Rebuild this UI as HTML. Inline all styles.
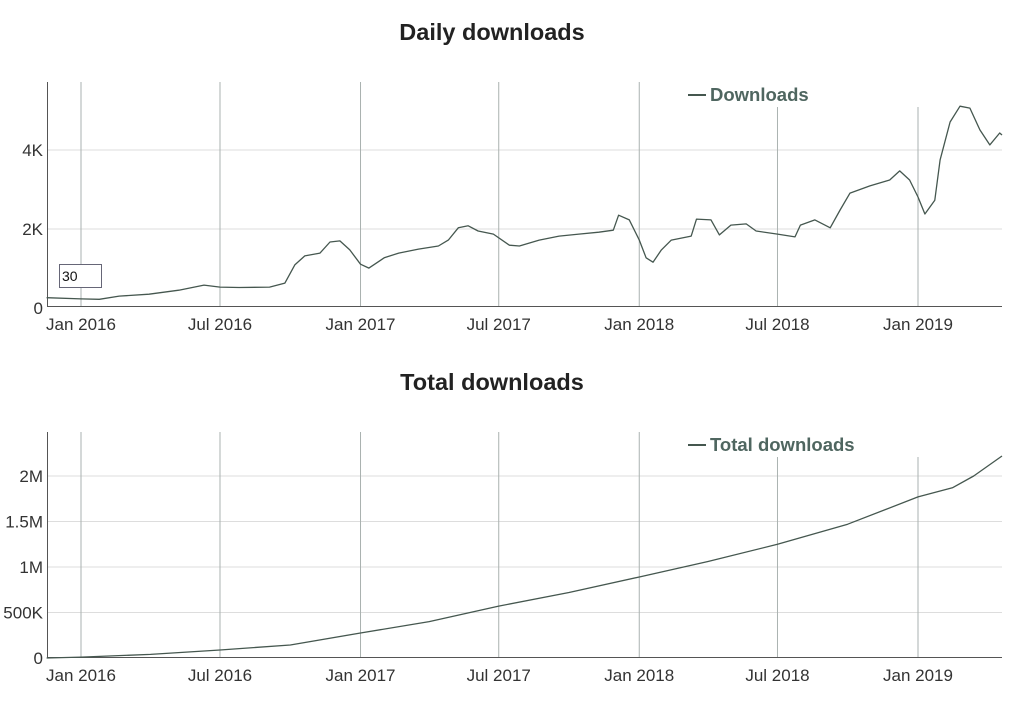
<!DOCTYPE html>
<html><head><meta charset="utf-8"><style>
body{margin:0;background:#fff;width:1027px;height:720px;overflow:hidden;font-family:"Liberation Sans",sans-serif}
svg{display:block}
</style></head><body>
<svg id="c" width="1027" height="720">
<text x="492" y="40" text-anchor="middle" font-size="23.5" font-weight="bold" fill="#222">Daily downloads</text>
<text x="492" y="390" text-anchor="middle" font-size="23.5" font-weight="bold" fill="#222">Total downloads</text>
<g id="p1"></g>
<g id="p2"></g>
<g><rect x="59.5" y="264.5" width="42" height="23" fill="#fff" stroke="#667" stroke-width="1"/><text x="62" y="281" font-size="14" fill="#111">30</text></g>
</svg>
<script>
const dailyDates=["2015-11-17","2016-01-01","2016-01-25","2016-02-20","2016-03-30","2016-05-08","2016-06-10","2016-07-01","2016-07-26","2016-09-04","2016-09-24","2016-10-07","2016-10-20","2016-11-09","2016-11-22","2016-12-05","2016-12-18","2017-01-01","2017-01-12","2017-02-01","2017-02-20","2017-03-18","2017-04-13","2017-04-26","2017-05-09","2017-05-22","2017-06-04","2017-06-24","2017-07-15","2017-07-28","2017-08-23","2017-09-18","2017-10-14","2017-11-09","2017-11-28","2017-12-05","2017-12-19","2018-01-01","2018-01-10","2018-01-19","2018-01-30","2018-02-12","2018-03-10","2018-03-17","2018-04-05","2018-04-16","2018-05-01","2018-05-21","2018-06-03","2018-07-01","2018-07-24","2018-07-31","2018-08-19","2018-09-08","2018-09-21","2018-10-04","2018-10-30","2018-11-25","2018-12-08","2018-12-21","2019-01-01","2019-01-10","2019-01-23","2019-01-30","2019-02-12","2019-02-25","2019-03-10","2019-03-23","2019-04-05","2019-04-18","2019-04-21"];
const dailyValues=[260,230,220,300,350,450,580,530,520,530,630,1090,1320,1390,1670,1700,1470,1110,1010,1270,1390,1490,1570,1720,2030,2080,1950,1870,1590,1570,1720,1820,1870,1920,1970,2350,2230,1720,1270,1160,1470,1720,1820,2250,2230,1850,2100,2130,1950,1870,1800,2100,2230,2030,2480,2910,3090,3240,3470,3240,2810,2380,2730,3750,4710,5110,5060,4510,4130,4430,4380];
const totalDates=["2015-11-17","2016-01-01","2016-04-01","2016-07-01","2016-10-01","2017-01-01","2017-04-01","2017-07-01","2017-10-01","2018-01-01","2018-04-01","2018-07-01","2018-10-01","2019-01-01","2019-02-15","2019-03-15","2019-04-21"];
const totalValues=[0,10000,40000,88000,143000,275000,400000,570000,720000,890000,1060000,1250000,1470000,1770000,1870000,2000000,2220000];
const dailyTicks=[0,2000,4000],dailyTickLabels=["0","2K","4K"];
const totalTicks=[0,500000,1000000,1500000,2000000],totalTickLabels=["0","500K","1M","1.5M","2M"];
const xTickDates=["2016-01-01","2016-07-01","2017-01-01","2017-07-01","2018-01-01","2018-07-01","2019-01-01"];
const xTickLabels=["Jan 2016","Jul 2016","Jan 2017","Jul 2017","Jan 2018","Jul 2018","Jan 2019"];
const NS="http://www.w3.org/2000/svg";
const d0=Date.parse("2016-01-01"),ppd=837/1096;
const X=s=>81+(Date.parse(s)-d0)/864e5*ppd;
function mk(g,t,a){const e=document.createElementNS(NS,t);for(const k in a)e.setAttribute(k,a[k]);g.appendChild(e);return e;}
function draw(gid,top,bottom,Y,ticks,labels,dates,vals,legend,lx,vtops){
 const g=document.getElementById(gid);
 ticks.forEach((t,i)=>{
  if(t>0){const l=mk(g,"line",{x1:47,x2:1002,y1:Y(t),y2:Y(t),stroke:"#ddd","stroke-width":1});
  
  }
  const tx=mk(g,"text",{x:43,y:Y(t)+6,"text-anchor":"end","font-size":17,fill:"#333"});tx.textContent=labels[i];
  
  
 });
 xTickDates.forEach((s,i)=>{
  const x=X(s);
  const l=mk(g,"line",{x1:x,x2:x,y1:vtops[i],y2:bottom,stroke:"#aab2b0","stroke-width":1});
  
  
  const tx=mk(g,"text",{x:x,y:bottom+24,"text-anchor":"middle","font-size":17,fill:"#333"});tx.textContent=xTickLabels[i];
  
  
 });
 const ax=mk(g,"path",{d:`M47.5 ${top} V${bottom}.5 H1002`,fill:"none",stroke:"#555","stroke-width":1});
 
 
 const pts=dates.map((s,i)=>X(s).toFixed(1)+","+Y(vals[i]).toFixed(1)).join(" ");
 const pl=mk(g,"polyline",{points:pts,fill:"none",stroke:"#45574f","stroke-width":1.3,"stroke-linejoin":"round"});
 
 
 const lg=mk(g,"g",{});
 
 
 mk(lg,"line",{x1:lx,x2:lx+18,y1:legend[1],y2:legend[1],stroke:"#45574f","stroke-width":2});
 const lt=mk(lg,"text",{x:lx+22,y:legend[1]+6,"font-size":18.5,"font-weight":"bold",fill:"#4f6660"});lt.textContent=legend[0];
}
draw("p1",82,306,v=>308-v/2000*79,dailyTicks,dailyTickLabels,dailyDates,dailyValues,["Downloads",95],688,[82,82,82,82,82,107,107]);
draw("p2",432,657,v=>658-v/500000*45.5,totalTicks,totalTickLabels,totalDates,totalValues,["Total downloads",445],688,[432,432,432,432,432,457,457]);
</script>
</body></html>
